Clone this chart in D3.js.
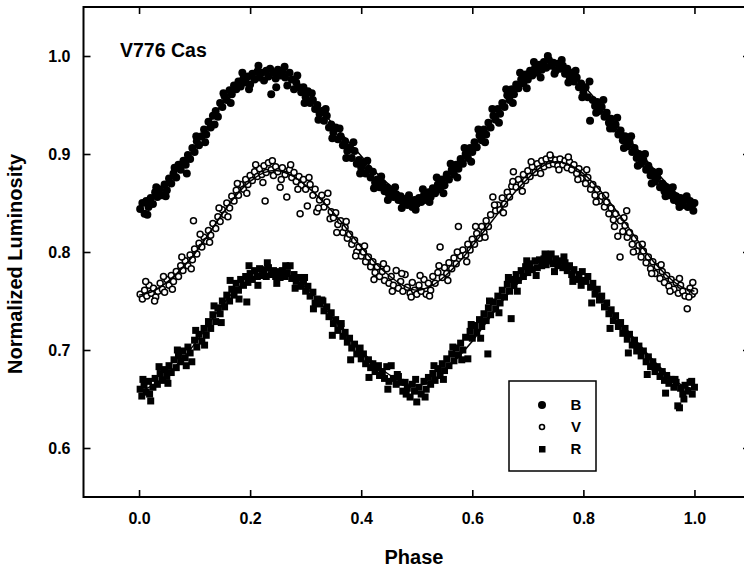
<!DOCTYPE html>
<html>
<head>
<meta charset="utf-8">
<script src="https://cdn.jsdelivr.net/npm/d3@7"></script>
<style>
  body { margin: 0; background: #fff; }
  svg { display: block; font-family: "Liberation Sans", Arial, sans-serif; }
</style>
</head>
<body>
<svg id="lc" width="744" height="573"></svg>
<script>
// tick labels
const xTicks = [0.0, 0.2, 0.4, 0.6, 0.8, 1.0];
const yTicks = [0.6, 0.7, 0.8, 0.9, 1.0];
const bands = ["B", "V", "R"];

// fitted light curves (phase step 0.025)
const fitPhase = [0,0.025,0.05,0.075,0.1,0.125,0.15,0.175,0.2,0.225,0.25,0.275,0.3,0.325,0.35,0.375,0.4,0.425,0.45,0.475,0.5,
  0.525,0.55,0.575,0.6,0.625,0.65,0.675,0.7,0.725,0.75,0.775,0.8,0.825,0.85,0.875,0.9,0.925,0.95,0.975,1];
const fitB = [0.846,0.855,0.870,0.888,0.907,0.930,0.952,0.968,0.977,0.981,0.981,0.974,0.961,0.946,0.930,0.914,0.898,0.882,0.869,0.857,0.852,
  0.860,0.874,0.890,0.907,0.926,0.946,0.965,0.979,0.989,0.991,0.984,0.970,0.954,0.937,0.920,0.903,0.886,0.870,0.857,0.851];
const fitV = [0.756,0.760,0.769,0.782,0.798,0.818,0.839,0.858,0.872,0.881,0.883,0.878,0.868,0.855,0.840,0.823,0.805,0.789,0.776,0.766,0.761,
  0.765,0.775,0.789,0.806,0.824,0.842,0.860,0.875,0.887,0.892,0.889,0.880,0.866,0.849,0.830,0.810,0.791,0.776,0.765,0.760];
const fitR = [0.658,0.664,0.675,0.689,0.706,0.726,0.746,0.762,0.772,0.777,0.778,0.774,0.764,0.749,0.732,0.715,0.699,0.686,0.675,0.667,0.664,
  0.668,0.679,0.693,0.709,0.728,0.747,0.764,0.777,0.786,0.788,0.783,0.772,0.757,0.740,0.723,0.706,0.690,0.676,0.665,0.660];

// observations [phase, normalized luminosity]
const obsB = [[0.002,0.844],[0.006,0.850],[0.010,0.839],[0.013,0.852],[0.017,0.846],[0.021,0.855],[0.025,0.849],[0.029,0.861],[0.033,0.856],[0.037,0.864],
  [0.041,0.858],[0.046,0.869],[0.050,0.863],[0.054,0.875],[0.058,0.870],[0.062,0.880],[0.067,0.876],[0.071,0.889],[0.075,0.884],[0.080,0.893],
  [0.084,0.889],[0.088,0.899],[0.092,0.895],[0.096,0.906],[0.100,0.902],[0.104,0.913],[0.108,0.909],[0.113,0.918],[0.117,0.925],[0.121,0.920],
  [0.125,0.933],[0.129,0.927],[0.133,0.939],[0.138,0.944],[0.142,0.938],[0.146,0.952],[0.150,0.948],[0.154,0.959],[0.158,0.955],[0.163,0.965],
  [0.167,0.961],[0.171,0.970],[0.175,0.966],[0.179,0.974],[0.183,0.969],[0.188,0.977],[0.192,0.973],[0.196,0.979],[0.200,0.971],[0.204,0.982],
  [0.208,0.976],[0.213,0.984],[0.217,0.978],[0.221,0.983],[0.225,0.975],[0.229,0.985],[0.233,0.979],[0.238,0.961],[0.242,0.983],[0.246,0.977],
  [0.250,0.986],[0.254,0.980],[0.258,0.984],[0.263,0.978],[0.267,0.970],[0.271,0.983],[0.275,0.976],[0.279,0.966],[0.283,0.973],[0.288,0.968],
  [0.292,0.963],[0.296,0.968],[0.300,0.958],[0.304,0.964],[0.308,0.952],[0.313,0.955],[0.317,0.946],[0.321,0.950],[0.325,0.941],[0.329,0.944],
  [0.333,0.934],[0.338,0.939],[0.342,0.927],[0.346,0.930],[0.350,0.922],[0.354,0.927],[0.358,0.915],[0.363,0.918],[0.367,0.909],[0.371,0.913],
  [0.375,0.903],[0.379,0.907],[0.383,0.896],[0.388,0.903],[0.392,0.890],[0.396,0.894],[0.400,0.886],[0.404,0.891],[0.408,0.880],[0.413,0.885],
  [0.417,0.876],[0.421,0.882],[0.425,0.871],[0.429,0.874],[0.433,0.866],[0.438,0.870],[0.442,0.862],[0.446,0.866],[0.450,0.859],[0.454,0.863],
  [0.458,0.856],[0.463,0.859],[0.467,0.853],[0.471,0.857],[0.475,0.851],[0.479,0.854],[0.483,0.848],[0.488,0.852],[0.492,0.846],[0.496,0.853],
  [0.500,0.849],[0.504,0.855],[0.508,0.851],[0.513,0.858],[0.517,0.853],[0.521,0.861],[0.525,0.856],[0.529,0.865],[0.533,0.860],[0.538,0.869],
  [0.542,0.864],[0.546,0.874],[0.550,0.868],[0.554,0.879],[0.558,0.874],[0.563,0.884],[0.567,0.879],[0.571,0.889],[0.575,0.885],[0.579,0.895],
  [0.583,0.890],[0.588,0.900],[0.592,0.896],[0.596,0.906],[0.600,0.902],[0.604,0.912],[0.608,0.907],[0.613,0.919],[0.617,0.914],[0.621,0.925],
  [0.625,0.920],[0.629,0.932],[0.633,0.927],[0.638,0.939],[0.642,0.935],[0.646,0.946],[0.650,0.941],[0.654,0.952],[0.658,0.948],[0.663,0.960],
  [0.667,0.955],[0.671,0.966],[0.675,0.961],[0.679,0.971],[0.683,0.967],[0.688,0.976],[0.692,0.972],[0.696,0.981],[0.700,0.976],[0.704,0.985],
  [0.708,0.980],[0.713,0.988],[0.717,0.983],[0.721,0.991],[0.725,0.986],[0.729,0.994],[0.733,0.988],[0.738,0.996],[0.742,0.990],[0.746,0.993],
  [0.750,0.985],[0.754,0.992],[0.758,0.987],[0.763,0.990],[0.767,0.982],[0.771,0.987],[0.775,0.979],[0.779,0.983],[0.783,0.974],[0.788,0.978],
  [0.792,0.968],[0.796,0.972],[0.800,0.963],[0.804,0.968],[0.808,0.958],[0.812,0.934],[0.817,0.955],[0.821,0.949],[0.825,0.953],[0.829,0.944],
  [0.833,0.948],[0.838,0.938],[0.842,0.942],[0.846,0.932],[0.850,0.936],[0.854,0.926],[0.858,0.930],[0.863,0.920],[0.867,0.924],[0.871,0.914],
  [0.875,0.918],[0.879,0.908],[0.883,0.912],[0.888,0.902],[0.892,0.906],[0.896,0.896],[0.900,0.900],[0.904,0.890],[0.908,0.894],[0.913,0.884],
  [0.917,0.888],[0.921,0.878],[0.925,0.882],[0.929,0.872],[0.933,0.876],[0.938,0.866],[0.942,0.870],[0.946,0.862],[0.950,0.866],[0.954,0.858],
  [0.958,0.861],[0.963,0.853],[0.967,0.857],[0.971,0.851],[0.975,0.855],[0.979,0.848],[0.983,0.853],[0.988,0.846],[0.992,0.852],[0.996,0.848],[1.000,0.850],
  [0.015,0.838],[0.031,0.866],[0.048,0.857],[0.064,0.886],[0.086,0.880],[0.103,0.918],[0.119,0.912],[0.136,0.930],[0.152,0.962],[0.165,0.952],
  [0.186,0.983],[0.198,0.966],[0.215,0.990],[0.236,0.987],[0.247,0.968],[0.262,0.989],[0.285,0.980],[0.298,0.952],[0.311,0.962],[0.323,0.935],
  [0.336,0.946],[0.348,0.916],[0.361,0.926],[0.373,0.896],[0.386,0.912],[0.398,0.880],[0.411,0.893],[0.423,0.865],[0.436,0.877],[0.448,0.853],
  [0.461,0.866],[0.473,0.845],[0.486,0.858],[0.498,0.843],[0.511,0.864],[0.523,0.851],[0.536,0.876],[0.548,0.860],[0.561,0.890],[0.573,0.876],
  [0.586,0.906],[0.598,0.892],[0.611,0.925],[0.623,0.912],[0.636,0.946],[0.648,0.932],[0.661,0.966],[0.673,0.952],[0.686,0.983],[0.698,0.967],
  [0.711,0.994],[0.723,0.978],[0.736,1.000],[0.748,0.982],[0.761,0.996],[0.773,0.973],[0.786,0.985],[0.798,0.958],[0.811,0.974],[0.823,0.942],
  [0.836,0.955],[0.848,0.926],[0.861,0.937],[0.873,0.906],[0.886,0.918],[0.898,0.888],[0.911,0.900],[0.923,0.870],[0.936,0.882],[0.948,0.857],
  [0.961,0.866],[0.973,0.846],[0.986,0.857],[0.998,0.842]];

const obsV = [[0.002,0.757],[0.006,0.752],[0.010,0.761],[0.014,0.755],[0.018,0.766],[0.022,0.758],[0.026,0.763],[0.030,0.754],[0.034,0.760],[0.038,0.768],
  [0.042,0.762],[0.046,0.759],[0.050,0.772],[0.054,0.766],[0.058,0.776],[0.062,0.770],[0.067,0.780],[0.071,0.775],[0.075,0.786],[0.079,0.781],
  [0.083,0.791],[0.088,0.786],[0.092,0.797],[0.096,0.792],[0.098,0.832],[0.100,0.803],[0.104,0.798],[0.108,0.809],[0.113,0.805],[0.117,0.815],
  [0.121,0.811],[0.125,0.822],[0.129,0.817],[0.133,0.829],[0.138,0.824],[0.142,0.836],[0.146,0.831],[0.150,0.843],[0.154,0.838],[0.158,0.850],
  [0.163,0.845],[0.167,0.857],[0.171,0.852],[0.175,0.863],[0.179,0.858],[0.183,0.869],[0.188,0.864],[0.192,0.874],[0.196,0.869],[0.200,0.878],
  [0.204,0.873],[0.208,0.882],[0.213,0.877],[0.217,0.885],[0.221,0.879],[0.225,0.888],[0.227,0.852],[0.229,0.881],[0.233,0.891],[0.238,0.884],
  [0.242,0.878],[0.246,0.887],[0.250,0.882],[0.254,0.866],[0.258,0.886],[0.263,0.879],[0.266,0.856],[0.271,0.884],[0.275,0.876],[0.279,0.881],
  [0.283,0.872],[0.288,0.877],[0.290,0.839],[0.292,0.868],[0.296,0.874],[0.300,0.864],[0.303,0.847],[0.308,0.869],[0.313,0.858],[0.317,0.864],
  [0.320,0.841],[0.325,0.853],[0.329,0.858],[0.333,0.846],[0.338,0.851],[0.344,0.834],[0.346,0.841],[0.350,0.835],[0.354,0.840],[0.358,0.828],
  [0.363,0.832],[0.367,0.820],[0.371,0.825],[0.375,0.814],[0.379,0.818],[0.383,0.808],[0.388,0.812],[0.392,0.800],[0.396,0.805],[0.400,0.796],
  [0.404,0.800],[0.408,0.790],[0.413,0.795],[0.417,0.785],[0.421,0.790],[0.425,0.779],[0.429,0.785],[0.433,0.775],[0.438,0.780],[0.442,0.771],
  [0.446,0.783],[0.450,0.768],[0.454,0.775],[0.458,0.766],[0.463,0.781],[0.467,0.763],[0.471,0.770],[0.475,0.760],[0.479,0.777],[0.483,0.764],
  [0.488,0.758],[0.492,0.769],[0.496,0.761],[0.500,0.757],[0.504,0.766],[0.508,0.760],[0.513,0.772],[0.517,0.757],[0.521,0.768],[0.525,0.761],
  [0.529,0.775],[0.533,0.768],[0.538,0.779],[0.542,0.805],[0.546,0.774],[0.550,0.784],[0.554,0.778],[0.558,0.789],[0.563,0.783],[0.567,0.794],
  [0.571,0.788],[0.575,0.826],[0.579,0.796],[0.583,0.802],[0.588,0.797],[0.592,0.808],[0.596,0.802],[0.600,0.813],[0.604,0.808],[0.608,0.819],
  [0.613,0.814],[0.617,0.826],[0.621,0.820],[0.625,0.832],[0.629,0.826],[0.633,0.838],[0.637,0.856],[0.642,0.842],[0.646,0.848],[0.650,0.843],
  [0.654,0.855],[0.658,0.849],[0.663,0.861],[0.667,0.856],[0.671,0.867],[0.674,0.882],[0.679,0.866],[0.683,0.874],[0.688,0.869],[0.692,0.879],
  [0.696,0.873],[0.700,0.883],[0.704,0.877],[0.708,0.887],[0.713,0.881],[0.717,0.890],[0.721,0.885],[0.725,0.893],[0.729,0.887],[0.733,0.895],
  [0.738,0.889],[0.742,0.896],[0.746,0.890],[0.750,0.894],[0.754,0.888],[0.758,0.895],[0.763,0.889],[0.767,0.893],[0.771,0.886],[0.775,0.892],
  [0.779,0.884],[0.783,0.889],[0.788,0.880],[0.792,0.885],[0.796,0.875],[0.800,0.881],[0.804,0.870],[0.808,0.876],[0.813,0.864],[0.817,0.869],
  [0.821,0.858],[0.825,0.864],[0.829,0.852],[0.833,0.857],[0.838,0.846],[0.842,0.851],[0.846,0.839],[0.850,0.845],[0.854,0.833],[0.858,0.839],
  [0.862,0.816],[0.866,0.795],[0.867,0.832],[0.871,0.821],[0.875,0.827],[0.878,0.842],[0.879,0.815],[0.883,0.820],[0.888,0.808],[0.892,0.814],
  [0.896,0.801],[0.900,0.807],[0.904,0.795],[0.908,0.801],[0.913,0.789],[0.917,0.795],[0.921,0.783],[0.925,0.790],[0.929,0.778],[0.933,0.785],
  [0.938,0.773],[0.942,0.780],[0.946,0.769],[0.950,0.776],[0.954,0.765],[0.958,0.772],[0.963,0.762],[0.967,0.769],[0.971,0.758],[0.975,0.766],
  [0.979,0.760],[0.983,0.755],[0.987,0.742],[0.992,0.763],[0.996,0.757],[0.997,0.769],[1.000,0.760],
  [0.012,0.770],[0.028,0.750],[0.044,0.775],[0.060,0.762],[0.077,0.795],[0.094,0.783],[0.110,0.818],[0.127,0.810],[0.144,0.845],[0.160,0.836],
  [0.177,0.870],[0.194,0.860],[0.210,0.889],[0.223,0.871],[0.240,0.893],[0.256,0.874],[0.273,0.889],[0.286,0.864],[0.306,0.876],[0.323,0.845],
  [0.340,0.860],[0.356,0.820],[0.373,0.831],[0.390,0.796],[0.406,0.806],[0.423,0.772],[0.440,0.788],[0.456,0.760],[0.473,0.778],[0.490,0.754],
  [0.506,0.776],[0.523,0.755],[0.540,0.786],[0.556,0.771],[0.573,0.800],[0.590,0.790],[0.606,0.826],[0.623,0.815],[0.640,0.848],[0.656,0.840],
  [0.673,0.872],[0.690,0.862],[0.706,0.892],[0.723,0.880],[0.740,0.899],[0.756,0.884],[0.773,0.897],[0.790,0.874],[0.806,0.884],[0.823,0.851],
  [0.840,0.858],[0.856,0.826],[0.873,0.835],[0.890,0.800],[0.906,0.808],[0.923,0.778],[0.940,0.787],[0.956,0.760],[0.973,0.773],[0.990,0.754]];

const obsR = [[0.002,0.660],[0.005,0.653],[0.009,0.664],[0.013,0.657],[0.017,0.668],[0.021,0.648],[0.025,0.662],[0.029,0.671],[0.033,0.665],[0.038,0.676],
  [0.042,0.669],[0.046,0.680],[0.050,0.673],[0.054,0.684],[0.058,0.677],[0.063,0.690],[0.067,0.682],[0.071,0.694],[0.075,0.688],[0.079,0.699],
  [0.083,0.692],[0.088,0.703],[0.092,0.697],[0.095,0.688],[0.100,0.710],[0.104,0.703],[0.108,0.716],[0.113,0.709],[0.117,0.722],[0.121,0.715],
  [0.125,0.729],[0.129,0.722],[0.133,0.736],[0.138,0.729],[0.142,0.743],[0.146,0.737],[0.150,0.750],[0.154,0.744],[0.158,0.756],[0.163,0.750],
  [0.167,0.762],[0.171,0.756],[0.175,0.768],[0.179,0.761],[0.183,0.772],[0.188,0.766],[0.192,0.775],[0.194,0.749],[0.196,0.769],[0.200,0.778],
  [0.204,0.772],[0.208,0.781],[0.213,0.775],[0.217,0.783],[0.221,0.776],[0.225,0.782],[0.229,0.775],[0.233,0.784],[0.238,0.777],[0.242,0.781],
  [0.246,0.775],[0.250,0.780],[0.254,0.774],[0.258,0.781],[0.263,0.775],[0.267,0.779],[0.272,0.786],[0.275,0.773],[0.279,0.777],[0.283,0.770],
  [0.288,0.774],[0.292,0.765],[0.296,0.770],[0.300,0.760],[0.304,0.765],[0.308,0.755],[0.313,0.759],[0.317,0.748],[0.321,0.752],[0.325,0.747],
  [0.329,0.751],[0.333,0.740],[0.338,0.744],[0.342,0.734],[0.346,0.738],[0.350,0.727],[0.354,0.731],[0.358,0.720],[0.363,0.724],[0.367,0.714],
  [0.371,0.718],[0.375,0.708],[0.379,0.712],[0.383,0.702],[0.388,0.706],[0.392,0.696],[0.396,0.700],[0.400,0.691],[0.404,0.696],[0.408,0.686],
  [0.413,0.690],[0.417,0.682],[0.421,0.686],[0.425,0.678],[0.429,0.682],[0.433,0.674],[0.438,0.678],[0.442,0.671],[0.446,0.683],[0.450,0.668],
  [0.454,0.684],[0.458,0.671],[0.463,0.665],[0.467,0.673],[0.471,0.667],[0.475,0.658],[0.479,0.667],[0.483,0.661],[0.488,0.652],[0.492,0.665],
  [0.496,0.658],[0.500,0.647],[0.504,0.662],[0.508,0.655],[0.513,0.668],[0.517,0.660],[0.521,0.672],[0.525,0.665],[0.529,0.676],[0.533,0.669],
  [0.538,0.681],[0.542,0.674],[0.546,0.686],[0.550,0.679],[0.554,0.691],[0.558,0.684],[0.563,0.696],[0.567,0.689],[0.571,0.702],[0.575,0.695],
  [0.579,0.707],[0.583,0.700],[0.588,0.713],[0.592,0.691],[0.596,0.719],[0.600,0.712],[0.604,0.725],[0.608,0.718],[0.613,0.731],[0.617,0.724],
  [0.621,0.737],[0.625,0.730],[0.628,0.696],[0.629,0.743],[0.633,0.736],[0.638,0.749],[0.642,0.742],[0.646,0.755],[0.650,0.748],[0.654,0.761],
  [0.658,0.754],[0.663,0.767],[0.667,0.760],[0.670,0.732],[0.671,0.772],[0.675,0.766],[0.679,0.777],[0.683,0.771],[0.688,0.781],[0.692,0.775],
  [0.696,0.785],[0.700,0.779],[0.704,0.788],[0.708,0.782],[0.713,0.791],[0.717,0.784],[0.721,0.792],[0.725,0.786],[0.729,0.793],[0.733,0.787],
  [0.738,0.792],[0.742,0.798],[0.746,0.788],[0.750,0.793],[0.754,0.786],[0.758,0.791],[0.763,0.784],[0.767,0.789],[0.771,0.781],[0.775,0.786],
  [0.779,0.777],[0.783,0.782],[0.788,0.772],[0.792,0.777],[0.796,0.766],[0.800,0.771],[0.804,0.770],[0.808,0.775],[0.813,0.764],[0.817,0.768],
  [0.821,0.757],[0.825,0.762],[0.829,0.751],[0.833,0.755],[0.838,0.744],[0.842,0.748],[0.846,0.737],[0.850,0.741],[0.854,0.730],[0.858,0.735],
  [0.863,0.724],[0.867,0.728],[0.871,0.717],[0.875,0.722],[0.879,0.711],[0.883,0.716],[0.888,0.705],[0.892,0.710],[0.896,0.699],[0.900,0.704],
  [0.904,0.694],[0.908,0.699],[0.913,0.688],[0.917,0.693],[0.921,0.683],[0.925,0.688],[0.929,0.678],[0.933,0.683],[0.938,0.673],[0.942,0.678],
  [0.946,0.669],[0.950,0.674],[0.954,0.666],[0.958,0.670],[0.963,0.662],[0.967,0.667],[0.970,0.643],[0.973,0.641],[0.975,0.661],[0.979,0.655],
  [0.983,0.664],[0.988,0.658],[0.992,0.667],[0.996,0.655],[1.000,0.662],
  [0.007,0.670],[0.019,0.655],[0.036,0.683],[0.052,0.666],[0.069,0.700],[0.085,0.684],[0.102,0.720],[0.118,0.705],[0.135,0.745],[0.148,0.728],
  [0.164,0.771],[0.180,0.752],[0.198,0.786],[0.214,0.766],[0.231,0.789],[0.248,0.768],[0.264,0.786],[0.281,0.763],[0.298,0.774],[0.314,0.742],
  [0.331,0.750],[0.348,0.715],[0.364,0.727],[0.381,0.690],[0.398,0.702],[0.414,0.672],[0.431,0.684],[0.448,0.660],[0.465,0.675],[0.481,0.655],
  [0.498,0.670],[0.515,0.652],[0.531,0.684],[0.548,0.670],[0.565,0.703],[0.581,0.690],[0.598,0.726],[0.615,0.712],[0.631,0.750],[0.648,0.738],
  [0.665,0.774],[0.681,0.760],[0.698,0.791],[0.715,0.776],[0.731,0.798],[0.748,0.780],[0.765,0.795],[0.781,0.770],[0.798,0.780],[0.815,0.748],
  [0.831,0.754],[0.848,0.722],[0.865,0.727],[0.881,0.697],[0.898,0.703],[0.915,0.675],[0.931,0.682],[0.948,0.656],[0.965,0.670],[0.981,0.650],
  [0.995,0.668]];

const svg = d3.select("svg#lc");

// frame edges in px (right edge runs past the window, as in the scan)
const frameL = 83.5, frameR = 750, frameT = 7, frameB = 497;

const x = d3.scaleLinear().domain([-0.1, 1.1]).range([frameL, frameR]);
const y = d3.scaleLinear().domain([0.55, 1.05]).range([frameB, frameT]);

function styleAxis(g) {
  g.select(".domain").remove();
  g.selectAll("line").attr("stroke", "#000").attr("stroke-width", 1.6);
  g.selectAll("text").attr("fill", "#000").style("font-size", "16px").style("font-weight", "bold");
}

// axes, ticks point into the plot
svg.append("g")
  .attr("transform", translate(0, frameB))
  .call(d3.axisBottom(x).tickValues(xTicks).tickSizeInner(-7).tickSizeOuter(0).tickPadding(16).tickFormat(d3.format(".1f")))
  .call(styleAxis);

svg.append("g")
  .attr("transform", translate(0, frameT))
  .call(d3.axisTop(x).tickValues(xTicks).tickSizeInner(-7).tickSizeOuter(0).tickFormat(""))
  .call(styleAxis);

svg.append("g")
  .attr("transform", translate(frameL, 0))
  .call(d3.axisLeft(y).tickValues(yTicks).tickSizeInner(-7).tickSizeOuter(0).tickPadding(13).tickFormat(d3.format(".1f")))
  .call(styleAxis);

svg.append("g")
  .attr("transform", translate(frameR, 0))
  .call(d3.axisRight(y).tickValues(yTicks).tickSizeInner(-7).tickSizeOuter(0).tickFormat(""))
  .call(styleAxis);

// frame
svg.append("rect")
  .attr("x", frameL).attr("y", frameT)
  .attr("width", frameR - frameL).attr("height", frameB - frameT)
  .attr("fill", "none").attr("stroke", "#000").attr("stroke-width", 2);

// points
svg.append("g").selectAll("circle")
  .data(obsB)
  .join("circle")
  .attr("cx", d => x(d[0]))
  .attr("cy", d => y(d[1]))
  .attr("r", 4)
  .attr("fill", "#000");

svg.append("g").selectAll("circle")
  .data(obsV)
  .join("circle")
  .attr("cx", d => x(d[0]))
  .attr("cy", d => y(d[1]))
  .attr("r", 3)
  .attr("fill", "#fff")
  .attr("stroke", "#000")
  .attr("stroke-width", 1.5);

svg.append("g").selectAll("rect")
  .data(obsR)
  .join("rect")
  .attr("x", d => x(d[0]) - 3.5)
  .attr("y", d => y(d[1]) - 3.5)
  .attr("width", 7)
  .attr("height", 7)
  .attr("fill", "#000");

// model curves
const line = d3.line().curve(d3.curveCatmullRom);
[fitB, fitV, fitR].forEach(function(fit) {
  svg.append("path")
    .attr("d", line(fitPhase.map((p, i) => [x(p), y(fit[i])])))
    .attr("fill", "none")
    .attr("stroke", "#000")
    .attr("stroke-width", 1.5);
});

// labels
svg.append("text")
  .attr("x", 120).attr("y", 57)
  .style("font-size", "19.5px").style("font-weight", "bold")
  .text("V776 Cas");

svg.append("text")
  .attr("transform", translate(22, 264) + " rotate(-90)")
  .attr("text-anchor", "middle")
  .style("font-size", "20px").style("font-weight", "bold")
  .text("Normalized Luminosity");

svg.append("text")
  .attr("x", 414).attr("y", 564)
  .attr("text-anchor", "middle")
  .style("font-size", "20px").style("font-weight", "bold")
  .text("Phase");

// legend
const lg = svg.append("g");
lg.append("rect")
  .attr("x", 509).attr("y", 381).attr("width", 87).attr("height", 90)
  .attr("fill", "#fff").attr("stroke", "#000").attr("stroke-width", 1.5);

const lgY = d3.scalePoint().domain(bands).range([405, 449]);
lg.append("circle").attr("cx", 542).attr("cy", lgY("B")).attr("r", 4).attr("fill", "#000");
lg.append("circle").attr("cx", 542).attr("cy", lgY("V")).attr("r", 2.5)
  .attr("fill", "#fff").attr("stroke", "#000").attr("stroke-width", 1.6);
lg.append("rect").attr("x", 539).attr("y", lgY("R") - 3).attr("width", 6.5).attr("height", 6.5).attr("fill", "#000");

lg.selectAll("text")
  .data(bands)
  .join("text")
  .attr("x", 576)
  .attr("y", d => lgY(d))
  .attr("dy", "0.36em")
  .attr("text-anchor", "middle")
  .style("font-size", "15px").style("font-weight", "bold")
  .text(d => d);

function translate(x, y) {
  return 'translate(' + x + ',' + y + ')';
}
</script>
</body>
</html>
